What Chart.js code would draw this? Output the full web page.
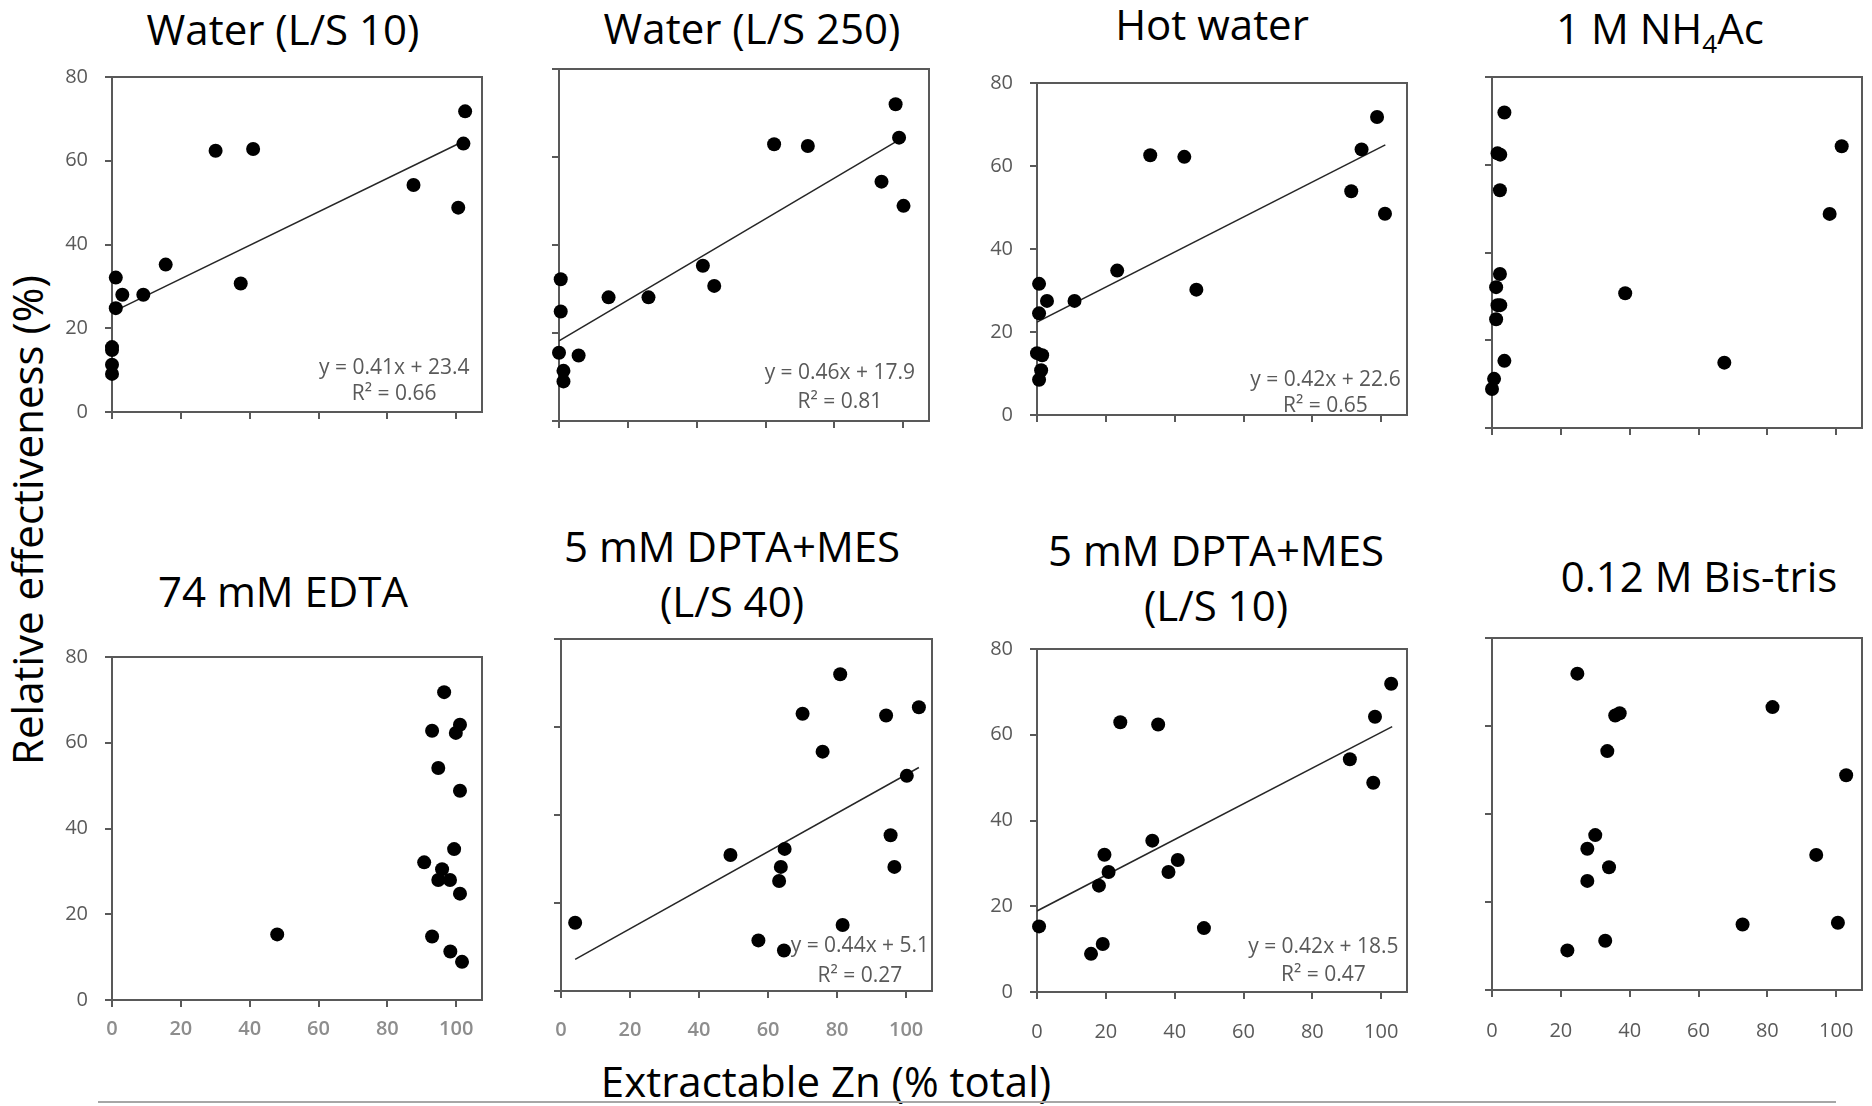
<!DOCTYPE html>
<html>
<head>
<meta charset="utf-8">
<script src="https://cdn.jsdelivr.net/npm/chart.js@4.4.1/dist/chart.umd.min.js"></script>
<style>
  body { margin: 0; background: #fff; }
  #wrap { position: relative; width: 1872px; height: 1106px; overflow: hidden; font-family: 'Open Sans', sans-serif; }
  canvas { position: absolute; }
  .t { position: absolute; transform: translate(-50%, -50%); white-space: nowrap; font-size: 42px; line-height: 1; color: #000; }
  .t sub { font-size: 0.62em; line-height: 0; }
</style>
</head>
<body>
<div id="wrap">
  <div class="t" style="left:283px;top:29px">Water (L/S 10)</div>
  <div class="t" style="left:752px;top:28px">Water (L/S 250)</div>
  <div class="t" style="left:1212px;top:24px">Hot water</div>
  <div class="t" style="left:1660px;top:28px">1 M NH<sub>4</sub>Ac</div>
  <div class="t" style="left:283px;top:591px">74 mM EDTA</div>
  <div class="t" style="left:732px;top:546px">5 mM DPTA+MES</div>
  <div class="t" style="left:732px;top:601px">(L/S 40)</div>
  <div class="t" style="left:1216px;top:550px">5 mM DPTA+MES</div>
  <div class="t" style="left:1216px;top:605px">(L/S 10)</div>
  <div class="t" style="left:1699px;top:576px">0.12 M Bis-tris</div>
  <div class="t" style="left:27px;top:520px;transform:translate(-50%,-50%) rotate(-90deg)">Relative effectiveness (%)</div>
  <div class="t" style="left:826px;top:1081px">Extractable Zn (% total)</div>
  <div style="position:absolute;left:98px;top:1101px;width:1738px;height:2px;background:#a6a6a6"></div>
</div>
<script>
// tick values
var xTicks = [0, 20, 40, 60, 80, 100];
var yTicks = [0, 20, 40, 60, 80];

// Water (L/S 10)
var znWater10  = [102.6, 102.1, 30.1, 41.0, 87.6, 100.6, 15.6, 37.4, 1.1, 3.0, 9.1, 1.1, 0, 0, 0, 0];
var effWater10 = [71.8, 64.1, 62.4, 62.8, 54.2, 48.8, 35.2, 30.7, 32.1, 28.0, 28.0, 24.8, 15.5, 14.8, 11.3, 9.1];
var fitXWater10 = [1, 102];
var fitYWater10 = [24.2, 64.6];

// Water (L/S 250)
var znWater250  = [97.8, 98.8, 62.5, 72.3, 93.7, 100.1, 41.8, 45.1, 0.5, 14.4, 26.0, 0.5, 0, 5.7, 1.3, 1.3];
var effWater250 = [72.0, 64.4, 62.9, 62.5, 54.4, 48.9, 35.3, 30.7, 32.2, 28.1, 28.1, 24.9, 15.5, 14.9, 11.4, 9.0];
var fitXWater250 = [0, 98.8];
var fitYWater250 = [18.2, 63.9];

// Hot water
var znHot  = [98.8, 94.3, 32.9, 42.8, 91.3, 101.1, 23.3, 46.3, 0.6, 2.9, 10.9, 0.6, 0, 1.5, 1.2, 0.6];
var effHot = [71.8, 64.0, 62.6, 62.2, 53.9, 48.5, 34.8, 30.2, 31.6, 27.5, 27.5, 24.5, 14.9, 14.4, 10.8, 8.5];
var fitXHot = [0, 101.2];
var fitYHot = [22.4, 65.1];

// 1 M NH4Ac
var znNH4  = [3.6, 1.6, 2.4, 2.3, 101.6, 98.1, 2.3, 1.2, 1.6, 2.4, 1.2, 38.7, 3.6, 67.5, 0.6, 0];
var effNH4 = [71.9, 62.6, 62.3, 54.2, 64.2, 48.8, 35.1, 32.1, 28.0, 28.0, 24.8, 30.7, 15.3, 14.9, 11.2, 8.9];

// 74 mM EDTA
var znEDTA  = [96.5, 93.0, 101.1, 99.9, 94.8, 101.1, 99.4, 90.7, 95.9, 94.8, 98.2, 101.1, 48.0, 93.0, 98.3, 101.7];
var effEDTA = [71.8, 62.8, 64.2, 62.3, 54.1, 48.8, 35.2, 32.1, 30.5, 28.0, 28.0, 24.8, 15.3, 14.8, 11.3, 8.9];

// 5 mM DPTA+MES (L/S 40)
var znDPTA40  = [80.9, 70.0, 94.2, 103.7, 75.8, 100.2, 95.5, 96.6, 49.1, 64.8, 63.7, 63.2, 4.1, 81.6, 57.2, 64.6];
var effDPTA40 = [72.0, 63.0, 62.6, 64.5, 54.4, 48.9, 35.4, 28.2, 30.9, 32.3, 28.2, 25.0, 15.5, 15.0, 11.5, 9.2];
var fitXDPTA40 = [4.1, 103.7];
var fitYDPTA40 = [7.2, 50.8];

// 5 mM DPTA+MES (L/S 10)
var znDPTA10  = [102.9, 98.2, 24.2, 35.2, 90.9, 97.7, 33.5, 40.9, 19.6, 20.8, 38.2, 18.0, 0.6, 48.5, 19.1, 15.7];
var effDPTA10 = [71.9, 64.2, 62.9, 62.4, 54.3, 48.8, 35.3, 30.8, 32.0, 28.0, 28.0, 24.8, 15.3, 14.9, 11.2, 8.9];
var fitXDPTA10 = [0, 103.2];
var fitYDPTA10 = [18.9, 61.9];

// 0.12 M Bis-tris
var znBis  = [24.8, 35.8, 37.1, 33.5, 81.5, 102.9, 30.0, 27.7, 34.0, 27.7, 94.2, 72.8, 100.5, 32.9, 21.9];
var effBis = [71.9, 62.4, 62.9, 54.3, 64.3, 48.8, 35.2, 32.1, 27.9, 24.8, 30.7, 14.9, 15.3, 11.2, 9.0];

// panel boxes in page pixels: left, top, right, bottom
var panels = [
  { box: [112, 68, 482, 421], x: znWater10, y: effWater10, fx: fitXWater10, fy: fitYWater10,
    eq: ['y = 0.41x + 23.4', 'R\u00b2 = 0.66'], eqAt: [82, 10.4, 4.3], yLab: true },
  { box: [559, 69, 929, 421], x: znWater250, y: effWater250, fx: fitXWater250, fy: fitYWater250,
    eq: ['y = 0.46x + 17.9', 'R\u00b2 = 0.81'], eqAt: [81.6, 10.9, 4.3], yLab: false },
  { box: [1037, 74, 1407, 424], x: znHot, y: effHot, fx: fitXHot, fy: fitYHot,
    eq: ['y = 0.42x + 22.6', 'R\u00b2 = 0.65'], eqAt: [83.8, 8.5, 2.1], yLab: true },
  { box: [1492, 77, 1862, 428], x: znNH4, y: effNH4, yLab: false },
  { box: [112, 648, 482, 1000], x: znEDTA, y: effEDTA, yLab: true, xPad: 10, soft: true },
  { box: [561, 639, 932, 991], x: znDPTA40, y: effDPTA40, fx: fitXDPTA40, fy: fitYDPTA40,
    eq: ['y = 0.44x + 5.1', 'R\u00b2 = 0.27'], eqAt: [86.6, 10.2, 3.4], yLab: false, xPad: 20, soft: true },
  { box: [1037, 640, 1407, 992], x: znDPTA10, y: effDPTA10, fx: fitXDPTA10, fy: fitYDPTA10,
    eq: ['y = 0.42x + 18.5', 'R\u00b2 = 0.47'], eqAt: [83.2, 10.6, 4.0], yLab: true, xPad: 21 },
  { box: [1492, 638, 1862, 990], x: znBis, y: effBis, yLab: false, xPad: 22 }
];

var axisGrey = '#595959';
var wrap = document.getElementById('wrap');

panels.forEach(function (p) {
  var xLab = p.xPad !== undefined;
  var W = 60, T = 20, R = 30, H = xLab ? 70 : 20;
  var l = p.box[0], t = p.box[1], r = p.box[2], b = p.box[3];
  var cv = document.createElement('canvas');
  cv.width = r - l + W + R;
  cv.height = b - t + T + H;
  cv.style.left = (l - W) + 'px';
  cv.style.top = (t - T) + 'px';
  wrap.appendChild(cv);

  var sets = [{
    data: p.x.map(function (v, i) { return { x: v, y: p.y[i] }; }),
    backgroundColor: '#000', borderWidth: 0, pointRadius: 7, pointHoverRadius: 7, clip: false
  }];
  if (p.fx) {
    sets.push({
      type: 'line',
      data: p.fx.map(function (v, i) { return { x: v, y: p.fy[i] }; }),
      borderColor: '#262626', borderWidth: 1.5, pointRadius: 0, fill: false
    });
  }

  // top and right sides of the plot box, plus the fit equation
  var extras = {
    id: 'extras',
    beforeDatasetsDraw: function (chart) {
      var a = chart.chartArea, ctx = chart.ctx;
      ctx.save();
      ctx.strokeStyle = axisGrey;
      ctx.lineWidth = 2;
      ctx.strokeRect(a.left, a.top, a.right - a.left, a.bottom - a.top);
      ctx.restore();
    },
    afterDatasetsDraw: function (chart) {
      if (!p.eq) return;
      var ctx = chart.ctx, sx = chart.scales.x, sy = chart.scales.y;
      ctx.save();
      ctx.fillStyle = axisGrey;
      ctx.font = '21px "Open Sans"';
      ctx.textAlign = 'center';
      ctx.textBaseline = 'middle';
      var cx = sx.getPixelForValue(p.eqAt[0]);
      ctx.fillText(p.eq[0], cx, sy.getPixelForValue(p.eqAt[1]));
      ctx.fillText(p.eq[1], cx, sy.getPixelForValue(p.eqAt[2]));
      ctx.restore();
    }
  };

  new Chart(cv, {
    type: 'scatter',
    data: { datasets: sets },
    options: {
      responsive: false,
      devicePixelRatio: 1,
      animation: false,
      events: [],
      layout: { padding: { top: T, right: R, left: 0, bottom: 0 } },
      plugins: { legend: { display: false }, tooltip: { enabled: false } },
      scales: {
        x: {
          type: 'linear', min: 0, max: 107.5,
          afterBuildTicks: function (a) { a.ticks = xTicks.map(function (v) { return { value: v }; }); },
          afterFit: function (a) { a.height = H; },
          grid: { drawOnChartArea: false, tickLength: 7, color: axisGrey, lineWidth: 2 },
          border: { color: axisGrey, width: 2 },
          ticks: {
            display: xLab, color: p.soft ? '#8d8d8d' : axisGrey,
            font: { family: 'Open Sans', size: 20, weight: p.soft ? '600' : 'normal' },
            padding: p.xPad || 0, maxRotation: 0
          }
        },
        y: {
          type: 'linear', min: 0, max: 80,
          afterBuildTicks: function (a) { a.ticks = yTicks.map(function (v) { return { value: v }; }); },
          afterFit: function (a) { a.width = W; },
          grid: { drawOnChartArea: false, tickLength: 7, color: axisGrey, lineWidth: 2 },
          border: { color: axisGrey, width: 2 },
          ticks: { display: p.yLab, color: axisGrey, font: { family: 'Open Sans', size: 20 }, padding: 17 }
        }
      }
    },
    plugins: [extras]
  });
});
</script>
</body>
</html>
